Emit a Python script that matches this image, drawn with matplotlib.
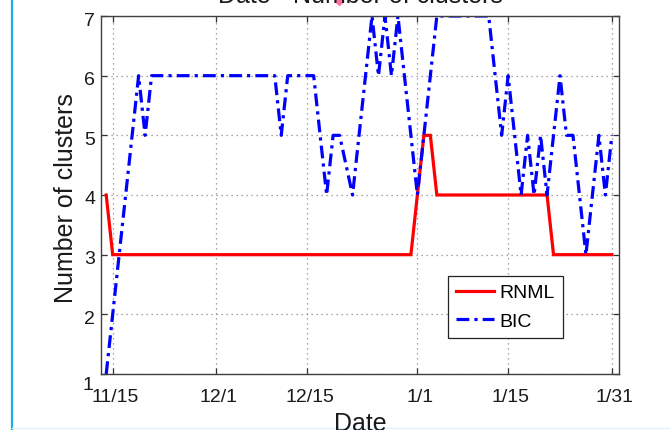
import matplotlib
matplotlib.use("Agg")
import matplotlib.pyplot as plt
from matplotlib.lines import Line2D
from matplotlib.transforms import ScaledTranslation

plt.rcParams["font.family"] = ["Liberation Sans", "DejaVu Sans"]

# Day offsets relative to 11/15 (day -1 is 11/14, day 77 is 1/31)
days = list(range(-1, 78))

rnml = [4,
        3, 3, 3, 3, 3, 3, 3, 3, 3, 3, 3, 3, 3, 3, 3, 3,
        3, 3, 3, 3, 3, 3, 3, 3, 3, 3, 3, 3, 3, 3, 3, 3,
        3, 3, 3, 3, 3, 3, 3, 3, 3, 3, 3, 3, 3, 3, 3,
        4, 5, 5,
        4, 4, 4, 4, 4, 4, 4, 4, 4, 4, 4, 4, 4, 4, 4, 4, 4, 4,
        3, 3, 3, 3, 3, 3, 3, 3, 3, 3]

bic = [1, 2, 3, 4, 5, 6, 5, 6,
       6, 6, 6, 6, 6, 6, 6, 6, 6, 6, 6, 6, 6, 6, 6, 6, 6, 6, 6,
       5, 6, 6, 6, 6, 6, 5, 4, 5, 5, 4.5, 4, 5, 6, 7, 6, 7, 6, 7, 6, 5, 4, 5, 6, 7,
       7, 7, 7, 7, 7, 7, 7, 7,
       6, 5, 6, 5, 4, 5, 4, 5, 4, 5, 6, 5, 5, 4, 3, 4, 5, 4, 5]

tick_days = [0, 16, 30, 47, 61, 77]
tick_labels = ["11/15", "12/1", "12/15", "1/1", "1/15", "1/31"]
y_ticks = [1, 2, 3, 4, 5, 6, 7]

W, H = 670, 431
fig = plt.figure(figsize=(W / 100, H / 100), dpi=100)
fig.patch.set_facecolor("white")

ax_l, ax_r, ax_t, ax_b = 100.7, 619.0, 17.0, 375.0
ax = fig.add_axes([ax_l / W, 1 - ax_b / H, (ax_r - ax_l) / W, (ax_b - ax_t) / H])

ax.plot(days, rnml, color="#ff0000", lw=2.3, solid_joinstyle="miter", label="RNML")
ax.plot(days, bic, color="#0000ff", lw=2.3, linestyle=(0, (4.0, 1.6, 1.0, 1.6)),
        label="BIC")

ax.set_xlim(-1.85, 78.1)
ax.set_ylim(1, 7)
ax.set_xticks(tick_days)
ax.set_xticklabels(tick_labels)
ax.set_yticks(y_ticks)
ax.set_yticklabels([str(v) for v in y_ticks])

ax.grid(True, color="#8a8a8a", linestyle=(0, (1, 3)), linewidth=0.9)
ax.tick_params(direction="in", length=4, width=0.9, color="#333333",
               top=True, right=True, labelsize=14, labelcolor="#1a1a1a")
ax.tick_params(axis="x", pad=10)
ax.tick_params(axis="y", pad=4)
for sp in ax.spines.values():
    sp.set_color("#404040")
    sp.set_linewidth(1.0)

# nudge tick labels: y labels slightly down (the bottom one further), x labels right
for lab in ax.get_yticklabels():
    if lab.get_text() == "1":
        dx, dy = -2, -9
    else:
        dx, dy = 0, -2
    lab.set_transform(lab.get_transform() + ScaledTranslation(dx / 100, dy / 100, fig.dpi_scale_trans))
for lab in ax.get_xticklabels():
    lab.set_transform(lab.get_transform() + ScaledTranslation(2.5 / 100, 0, fig.dpi_scale_trans))

leg = ax.legend(loc="upper left", bbox_to_anchor=(0.6695, 0.2746), borderaxespad=0,
                fontsize=14, handlelength=1.96, handletextpad=0.27, labelspacing=0.54,
                borderpad=0.42, fancybox=False, framealpha=1, edgecolor="#222222")
leg.get_frame().set_linewidth(0.9)

fig.text(66 / W, 1 - 198 / H, "Number of clusters", rotation=90, ha="center",
         va="center", fontsize=18, color="#1a1a1a")
fig.text(360 / W, -0.5 / H, "Date", ha="center", va="baseline", fontsize=18,
         color="#1a1a1a")
fig.text(360 / W, 1 - 3 / H, "Date - Number of clusters", ha="center", va="baseline",
         fontsize=18, color="#1a1a1a")

# window border pieces around the plot
fig.add_artist(Line2D([12.5 / W, 12.5 / W], [0, 1], transform=fig.transFigure,
                      color="#1aaee8", lw=1.6))
fig.add_artist(Line2D([12.5 / W, 1], [1 - 428.8 / H, 1 - 428.8 / H],
                      transform=fig.transFigure, color="#dff3fb", lw=1.0))
fig.add_artist(Line2D([339 / W], [1 - 1.5 / H], transform=fig.transFigure,
                      marker="D", markersize=4, color="#ff6fa0", lw=0))

fig.savefig("out.png", dpi=100)
